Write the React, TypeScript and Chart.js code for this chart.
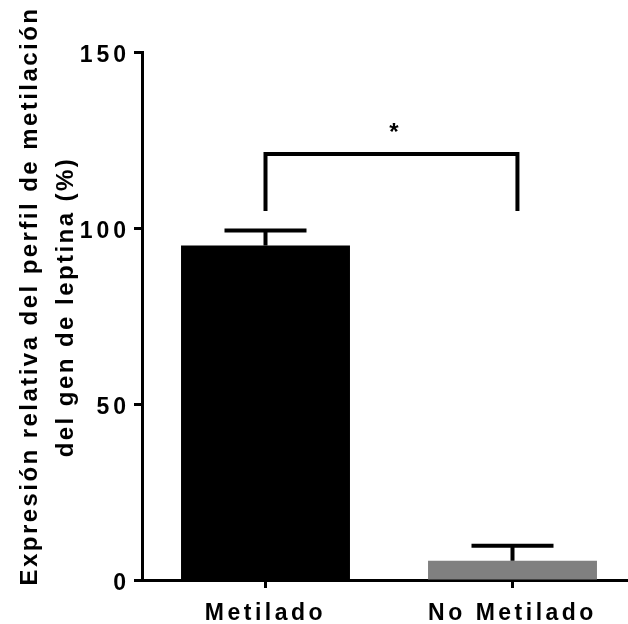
import React, { useEffect, useRef } from "react";
import { Chart, registerables } from "chart.js";

Chart.register(...registerables);

const categories = ["Metilado", "No Metilado"];
const means = [95, 5.5];
const errorTops = [99.3, 9.7];
const barColors = ["#000000", "#808080"];
const yMin = 0;
const yMax = 150;
const yStep = 50;
const yTitleLines = ["Expresión relativa del perfil de metilación", "del gen de leptina (%)"];
const bracketLevel = 121;
const bracketLegBottom = 104.8;
const bracketX = [0, 1.02];
const significanceLabel = "*";
const significanceX = 0.52;
const significanceY = 125;

const FONT_FAMILY = "'Liberation Sans', Arial, sans-serif";

const overlayPlugin = {
  id: "overlay",
  beforeDraw(chart: any) {
    const patch = (scale: any, spacing: string) => {
      if (!scale || scale.__patched) return;
      const orig = scale.drawLabels.bind(scale);
      scale.drawLabels = (area: any) => {
        const c = chart.ctx as any;
        const prev = c.letterSpacing;
        c.letterSpacing = spacing;
        orig(area);
        c.letterSpacing = prev || "0px";
      };
      scale.__patched = true;
    };
    patch(chart.scales.x, "3.5px");
    patch(chart.scales.y, "4px");
  },
  afterDatasetsDraw(chart: any) {
    const ctx = chart.ctx as any;
    const xs = chart.scales.x;
    const ys = chart.scales.y;
    ctx.save();
    ctx.strokeStyle = "#000";
    ctx.lineWidth = 4;
    ctx.lineCap = "butt";
    for (let i = 0; i < means.length; i++) {
      const x = xs.getPixelForValue(i);
      const yb = ys.getPixelForValue(means[i]);
      const yt = ys.getPixelForValue(errorTops[i]);
      ctx.beginPath();
      ctx.moveTo(x, yb);
      ctx.lineTo(x, yt);
      ctx.moveTo(x - 41, yt);
      ctx.lineTo(x + 41, yt);
      ctx.stroke();
    }
    const x0 = xs.getPixelForValue(0);
    const x1 = xs.getPixelForValue(1);
    const bx = (t: number) => x0 + (x1 - x0) * t;
    const yl = ys.getPixelForValue(bracketLevel);
    const yLeg = ys.getPixelForValue(bracketLegBottom);
    ctx.lineJoin = "miter";
    ctx.beginPath();
    ctx.moveTo(bx(bracketX[0]), yLeg);
    ctx.lineTo(bx(bracketX[0]), yl);
    ctx.lineTo(bx(bracketX[1]), yl);
    ctx.lineTo(bx(bracketX[1]), yLeg);
    ctx.stroke();
    ctx.fillStyle = "#000";
    ctx.font = `bold 24px ${FONT_FAMILY}`;
    ctx.textAlign = "center";
    ctx.textBaseline = "alphabetic";
    ctx.fillText(significanceLabel, bx(significanceX), ys.getPixelForValue(significanceY));
    ctx.restore();
  },
  afterDraw(chart: any) {
    const ctx = chart.ctx as any;
    ctx.save();
    ctx.fillStyle = "#000";
    ctx.font = `bold 24px ${FONT_FAMILY}`;
    ctx.letterSpacing = "2.45px";
    ctx.textAlign = "center";
    ctx.textBaseline = "alphabetic";
    const baselines = [37, 73];
    const centers = [296, 307];
    yTitleLines.forEach((line, i) => {
      ctx.save();
      ctx.translate(baselines[i], centers[i]);
      ctx.rotate(-Math.PI / 2);
      ctx.fillText(line, 0, 0);
      ctx.restore();
    });
    ctx.restore();
  },
};

export default function App() {
  const ref = useRef<HTMLCanvasElement | null>(null);
  useEffect(() => {
    const canvas = ref.current;
    if (!canvas) return;
    const chart = new Chart(canvas, {
      type: "bar",
      data: {
        labels: categories,
        datasets: [
          {
            data: means,
            backgroundColor: barColors,
            borderWidth: 0,
            barPercentage: 0.684,
            categoryPercentage: 1,
          },
        ],
      },
      options: {
        responsive: false,
        animation: false,
        devicePixelRatio: 1,
        layout: { padding: { top: 52, left: 0, right: 0, bottom: 0 } },
        plugins: { legend: { display: false }, tooltip: { enabled: false } },
        scales: {
          x: {
            offset: true,
            grid: {
              offset: false,
              drawOnChartArea: false,
              drawTicks: true,
              tickLength: 8,
              tickWidth: 3,
              tickColor: "#000",
            },
            border: { display: true, color: "#000", width: 3 },
            ticks: {
              color: "#000",
              padding: 12,
              maxRotation: 0,
              font: { family: FONT_FAMILY, size: 23, weight: "bold" },
            },
            afterFit: (scale: any) => {
              scale.height = 44;
            },
          },
          y: {
            min: yMin,
            max: yMax,
            grid: {
              drawOnChartArea: false,
              drawTicks: true,
              tickLength: 8,
              tickWidth: 3,
              tickColor: "#000",
            },
            border: { display: true, color: "#000", width: 3 },
            ticks: {
              stepSize: yStep,
              color: "#000",
              padding: 4,
              labelOffset: 4,
              font: { family: FONT_FAMILY, size: 23, weight: "bold" },
            },
            afterFit: (scale: any) => {
              scale.width = 142;
            },
          },
        },
      },
      plugins: [overlayPlugin],
    });
    return () => chart.destroy();
  }, []);
  return (
    <div
      style={{
        position: "fixed",
        left: 0,
        top: 0,
        width: 628,
        height: 624,
        overflow: "hidden",
        background: "#fff",
      }}
    >
      <canvas ref={ref} width={636} height={624} style={{ display: "block" }} />
    </div>
  );
}
